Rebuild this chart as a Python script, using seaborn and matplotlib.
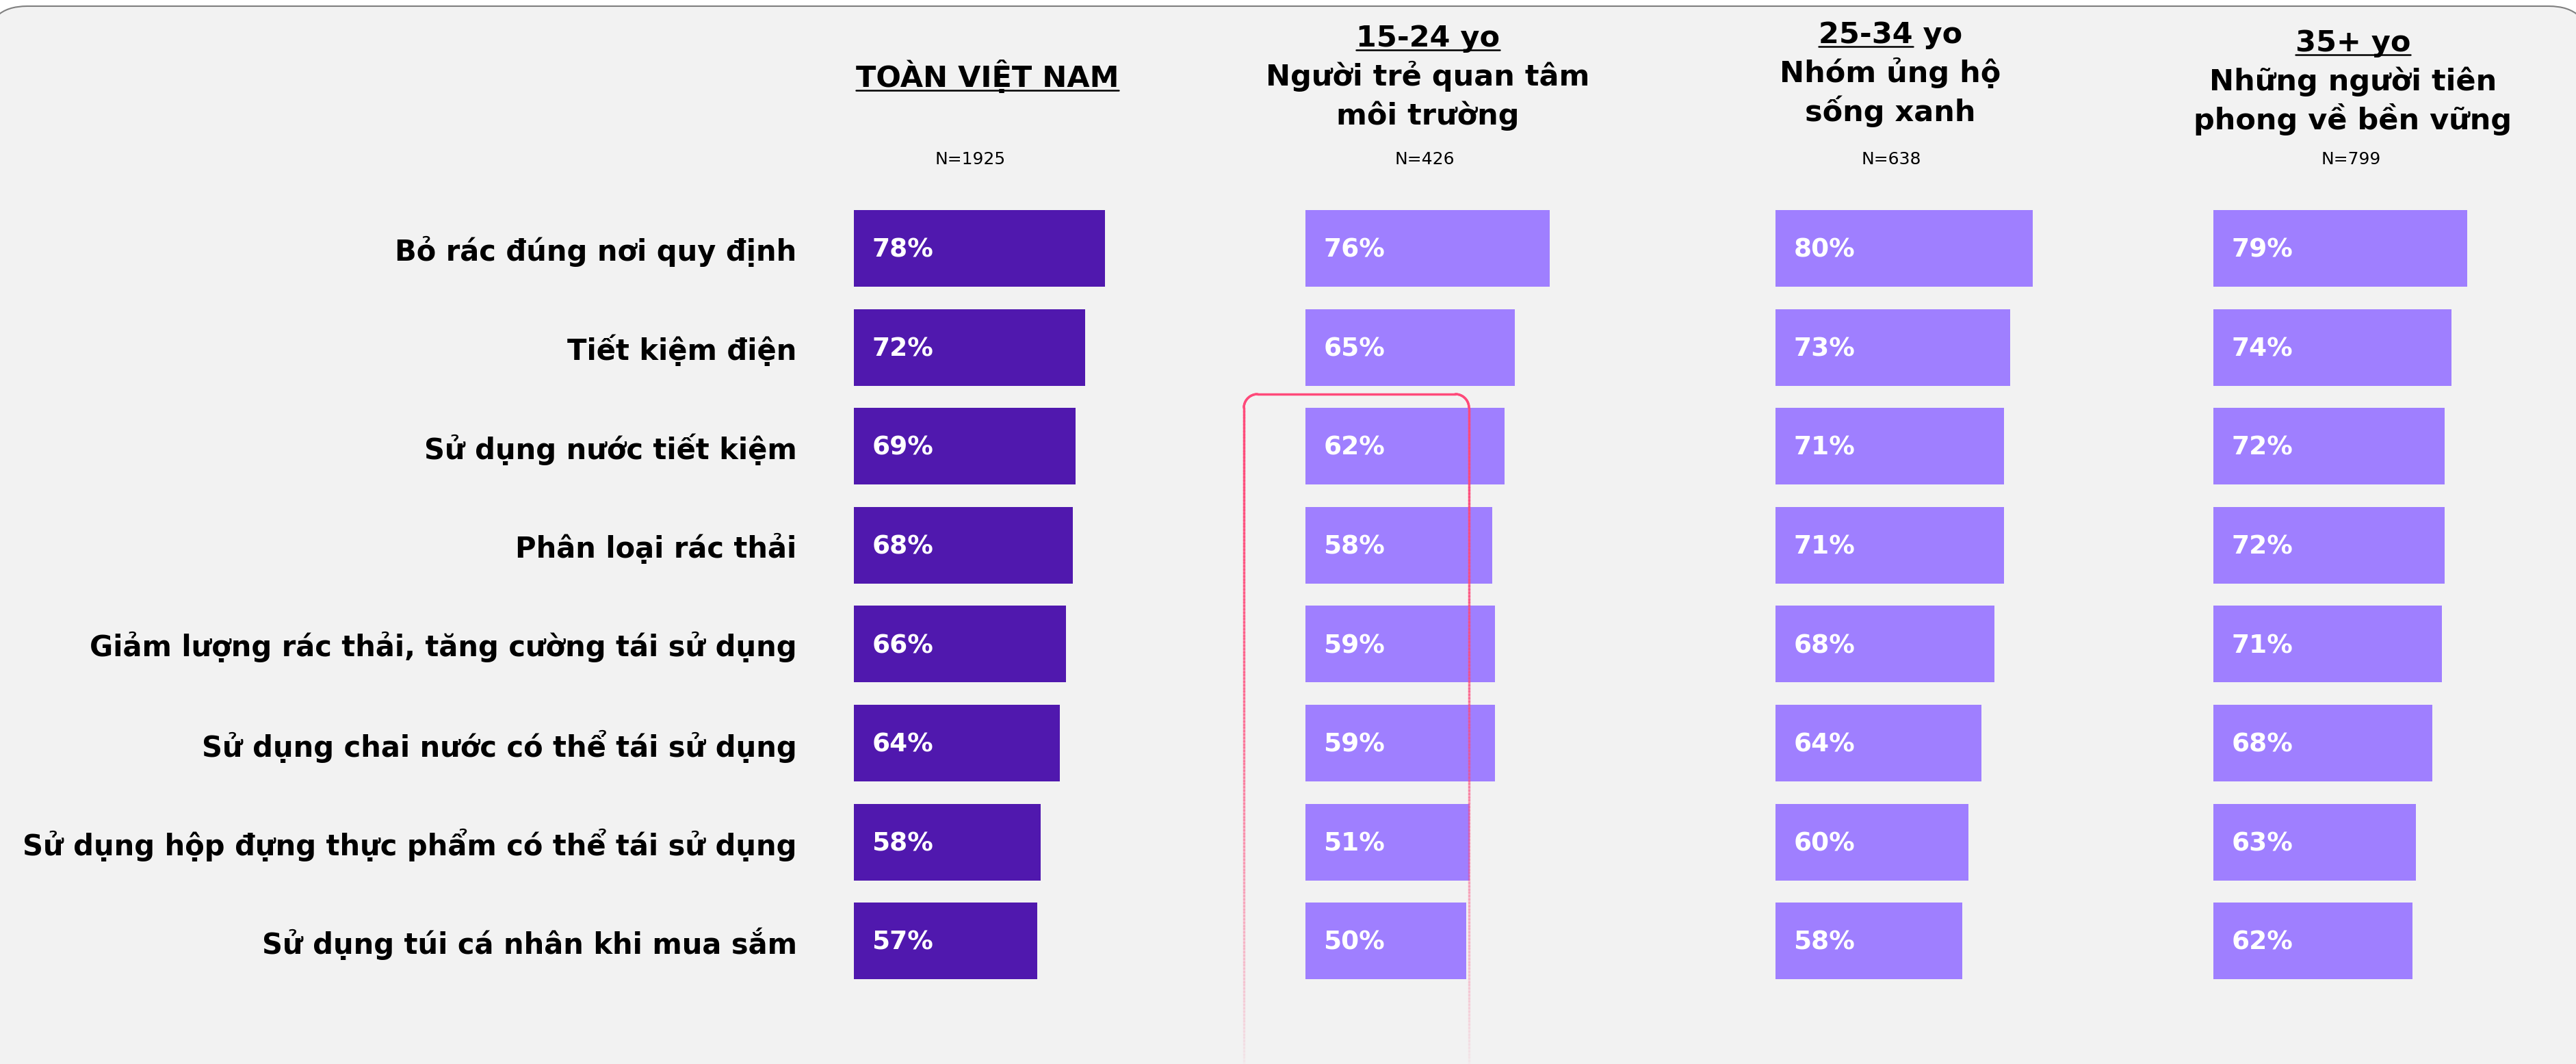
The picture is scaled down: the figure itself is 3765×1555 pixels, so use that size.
import numpy as np
import pandas as pd
import seaborn as sns
import matplotlib.pyplot as plt
from matplotlib.patches import FancyBboxPatch
from matplotlib.collections import LineCollection
from matplotlib.lines import Line2D
from matplotlib.transforms import Affine2D

# Data
categories = [
    "Bỏ rác đúng nơi quy định",
    "Tiết kiệm điện",
    "Sử dụng nước tiết kiệm",
    "Phân loại rác thải",
    "Giảm lượng rác thải, tăng cường tái sử dụng",
    "Sử dụng chai nước có thể tái sử dụng",
    "Sử dụng hộp đựng thực phẩm có thể tái sử dụng",
    "Sử dụng túi cá nhân khi mua sắm",
]
toan_vn = [78, 72, 69, 68, 66, 64, 58, 57]
age_15_24 = [76, 65, 62, 58, 59, 59, 51, 50]
age_25_34 = [80, 73, 71, 71, 68, 64, 60, 58]
age_35_plus = [79, 74, 72, 72, 71, 68, 63, 62]

header_lines = [
    ["TOÀN VIỆT NAM"],
    ["15-24 yo", "Người trẻ quan tâm", "môi trường"],
    ["25-34 yo", "Nhóm ủng hộ", "sống xanh"],
    ["35+ yo", "Những người tiên", "phong về bền vững"],
]
underlined = ["TOÀN VIỆT NAM", "15-24 yo", "25-34", "35+ yo"]
sample_sizes = ["N=1925", "N=426", "N=638", "N=799"]

W, H = 3765, 1555
sns.set_theme(style="white")
plt.rcParams["font.family"] = ["DejaVu Sans"]

fig = plt.figure(figsize=(W / 100, H / 100), dpi=100, facecolor="white")
# pixel coordinates, origin top-left
PX = Affine2D().scale(1 / W, -1 / H).translate(0, 1) + fig.transFigure

panel = FancyBboxPatch((-20, 9), W + 40, H + 10, boxstyle="round,pad=0,rounding_size=60",
                       transform=PX, facecolor="#F2F2F2", edgecolor="#7F7F7F",
                       linewidth=1.5, zorder=-1)
fig.add_artist(panel)

# Bar panels
series = [toan_vn, age_15_24, age_25_34, age_35_plus]
colors = ["#5018AE", "#9F7FFF", "#9F7FFF", "#9F7FFF"]
bar_lefts = [1248, 1908, 2595, 3235]
px_per_pct = 4.70
row0, pitch = 363, 144.6
ax_top = row0 - pitch / 2
ax_h = pitch * len(categories)

axes = []
for i, (vals, col) in enumerate(zip(series, colors)):
    ax = fig.add_axes([bar_lefts[i] / W, 1 - (ax_top + ax_h) / H,
                       100 * px_per_pct / W, ax_h / H])
    df = pd.DataFrame({"cat": categories, "val": vals})
    sns.barplot(data=df, x="val", y="cat", orient="h", color=col, saturation=1,
                width=0.775, linewidth=0, ax=ax)
    ax.set_xlim(0, 100)
    ax.set_ylim(len(categories) - 0.5, -0.5)
    ax.set_facecolor("none")
    sns.despine(ax=ax, left=True, bottom=True)
    ax.set_xticks([])
    ax.set_xlabel("")
    ax.set_ylabel("")
    ax.tick_params(axis="y", length=0, pad=60, labelsize=30)
    if i == 0:
        for lab in ax.get_yticklabels():
            lab.set_fontweight("bold")
            lab.set_color("black")
    else:
        ax.set_yticklabels([])
    for j, v in enumerate(vals):
        ax.annotate(f"{v}%", xy=(0, j), xytext=(19, -2), textcoords="offset points",
                    va="center", ha="left", color="white", fontsize=27,
                    fontweight="bold")
    axes.append(ax)

# Headers
header_x = [1443, 2087, 2763, 3439]
header_base = [127, 68, 63, 75]
line_gap = 57
titles = []
for hx, hb, lines in zip(header_x, header_base, header_lines):
    t = None
    for k, s in enumerate(lines):
        tt = fig.text(hx, hb + k * line_gap, s, transform=PX, ha="center",
                      va="baseline", fontsize=31, fontweight="bold", color="black")
        if k == 0:
            t = tt
    titles.append(t)

n_x = [1418, 2082, 2764, 3436]
for nx, s in zip(n_x, sample_sizes):
    fig.text(nx, 240, s, transform=PX, ha="center", va="baseline", fontsize=18,
             color="black")

fig.canvas.draw()
renderer = fig.canvas.get_renderer()
inv = PX.inverted()
for t, part, hb in zip(titles, underlined, header_base):
    bb = t.get_window_extent(renderer)
    tmp = fig.text(0, 0, part, fontsize=31, fontweight="bold")
    w = tmp.get_window_extent(renderer).width
    tmp.remove()
    x0 = inv.transform((bb.x0, 0))[0]
    x1 = inv.transform((bb.x0 + w, 0))[0]
    fig.add_artist(Line2D([x0, x1], [hb + 5, hb + 5], transform=PX,
                          color="black", linewidth=1.8))

# Highlight frame around the 15-24 column (fading towards the bottom)
left, right, top, bottom, r = 1818, 2147, 576, H, 20
theta = np.linspace(np.pi, np.pi / 2, 20)
arc_l = np.column_stack([left + r + r * np.cos(theta), top + r - r * np.sin(theta)])
theta2 = np.linspace(np.pi / 2, 0, 20)
arc_r = np.column_stack([right - r + r * np.cos(theta2), top + r - r * np.sin(theta2)])
left_side = np.column_stack([np.full(200, left), np.linspace(bottom, top + r, 200)])
right_side = np.column_stack([np.full(200, right), np.linspace(top + r, bottom, 200)])
pts = np.vstack([left_side, arc_l, arc_r, right_side])
segs = np.stack([pts[:-1], pts[1:]], axis=1)
ymid = segs[:, :, 1].mean(axis=1)
alpha = np.clip(1 - 0.97 * (ymid - top) / (bottom - top), 0.03, 1)
seg_colors = np.zeros((len(segs), 4))
seg_colors[:, :3] = [1.0, 0.29, 0.48]
seg_colors[:, 3] = alpha
lc = LineCollection(segs, colors=seg_colors, linewidths=2.5, transform=PX,
                    zorder=5, capstyle="round")
fig.add_artist(lc)

fig.savefig("out.png", dpi=100, facecolor="white")
